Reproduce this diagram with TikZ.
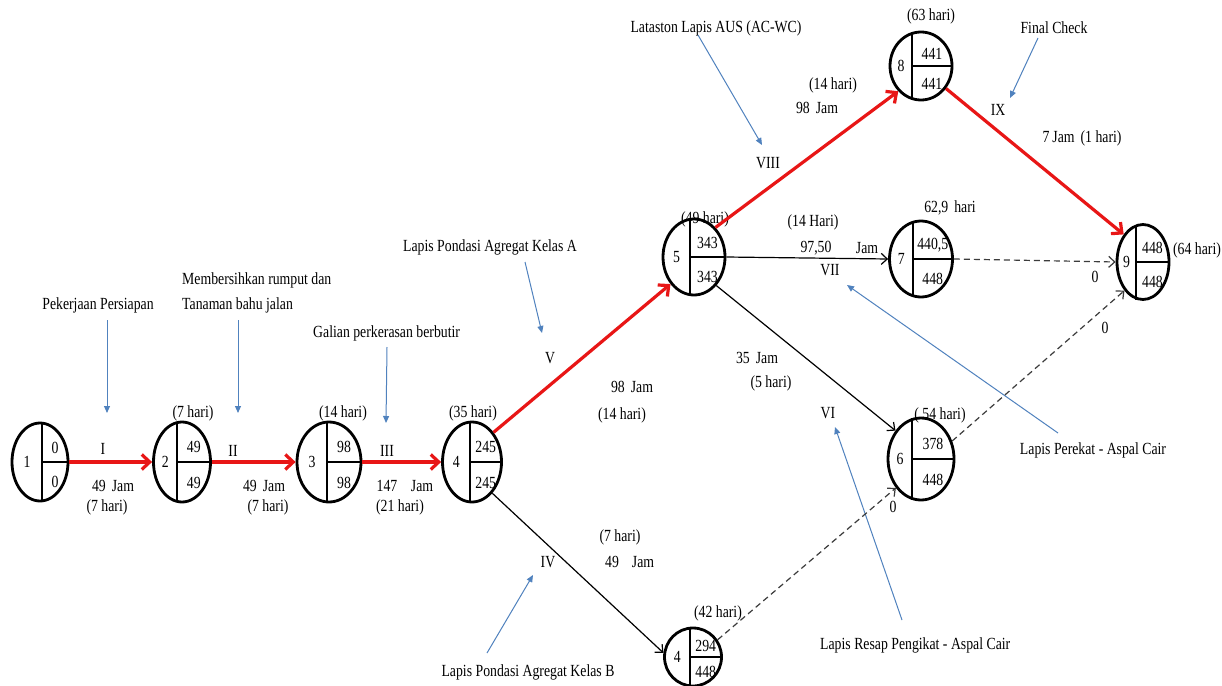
\documentclass[tikz,border=0pt]{standalone}
\usepackage{fontspec}
\setmainfont{Liberation Serif}[FakeStretch=0.81]
\usetikzlibrary{shapes.geometric,arrows.meta}
\definecolor{cpmred}{RGB}{232,22,22}
\definecolor{noteblue}{RGB}{80,130,190}
\definecolor{dashgray}{RGB}{60,60,60}
\tikzset{
 txt/.style={font=\fontsize{17}{19}\selectfont, inner sep=0pt},
 evt/.style={draw, ellipse, line width=2.8pt, inner sep=0pt},
 innerline/.style={line width=1.3pt},
 crit/.style={draw=cpmred, line width=3.2pt, -{Straight Barb[length=8pt,width=15pt]}},
 act/.style={line width=1.2pt, -{Straight Barb[length=6pt,width=11pt]}},
 dummy/.style={draw=dashgray, line width=1.2pt, dash pattern=on 6pt off 4pt, -{Straight Barb[length=6pt,width=11pt]}},
 note/.style={draw=noteblue, line width=1pt, -{Triangle[length=7pt,width=6pt]}}
}
% name, x, y, rx, ry, dv, num, top, bottom
\newcommand\evnode[9]{%
 \node[evt, minimum width=2*#4pt, minimum height=2*#5pt] (#1) at (#2,#3) {};
 \draw[innerline] (#2+#6,#3-#5) -- (#2+#6,#3+#5);
 \draw[innerline] (#2+#6,#3) -- (#2+#4,#3);
 \node[txt] (#1-num) at ({(2*#2-#4+#6)/2},#3) {#7};
 \node[txt] (#1-top) at ({(2*#2+#6+#4)/2},{#3-0.37*#5}) {#8};
 \node[txt] (#1-bot) at ({(2*#2+#6+#4)/2},{#3+0.52*#5}) {#9};
}
\begin{document}
\begin{tikzpicture}[x=1pt,y=-1pt]
\useasboundingbox (0,0) rectangle (1222,685);
\fill[white] (0,0) rectangle (1222,685);

% event nodes
\evnode{n1}{40}{462}{28}{39}{2}{1}{0}{0}
\evnode{n2}{182}{462}{28.5}{40}{-5}{2}{49}{49}
\evnode{n3}{329}{462}{32}{40}{-2}{3}{98}{98}
\evnode{n4}{472}{462}{29.5}{40}{-2}{4}{245}{245}
\evnode{n5}{694}{257}{31}{38}{-4}{5}{343}{343}
\evnode{n7}{921}{259}{31.5}{38}{-8}{7}{440,5}{448}
\evnode{n8}{921}{66}{31}{34}{-9}{8}{441}{441}
\evnode{n9}{1143}{262}{26}{37.5}{-7}{9}{448}{448}
\evnode{n6}{921}{459}{33}{41}{-9}{6}{378}{448}
\evnode{n10}{693}{657}{28.5}{29}{-3}{4}{294}{448}

% times above nodes
\node[txt] (e2) at (193,413) {(7 hari)};
\node[txt] (e3) at (343,413) {(14 hari)};
\node[txt] (e4) at (473,413) {(35 hari)};
\node[txt] (e5) at (705,219) {(49 hari)};
\node[txt] (e8) at (931,16) {(63 hari)};
\node[txt] (e9) at (1197,250) {(64 hari)};
\node[txt] (e6) at (940,415) {( 54 hari)};
\node[txt] (e10) at (718,613) {(42 hari)};

% activity labels
\node[txt] (lI) at (103,449) {I};
\node[txt] (lIa) at (113,486) {49\hspace{6pt}Jam};
\node[txt] (lIb) at (107,507) {(7 hari)};
\node[txt] (lII) at (233,451) {II};
\node[txt] (lIIa) at (264,486) {49\hspace{6pt}Jam};
\node[txt] (lIIb) at (268,507) {(7 hari)};
\node[txt] (lIII) at (387,451) {III};
\node[txt] (lIIIa) at (387,486) {147};
\node[txt] (lIIIc) at (422,486) {Jam};
\node[txt] (lIIIb) at (400,507) {(21 hari)};
\node[txt] (lV) at (550,358) {V};
\node[txt] (lVa) at (632,387) {98\hspace{6pt}Jam};
\node[txt] (lVb) at (622,415) {(14 hari)};
\node[txt] (lIV) at (548,562) {IV};
\node[txt] (lIVb) at (620,537) {(7 hari)};
\node[txt] (lIVa) at (612,562) {49};
\node[txt] (lIVc) at (643,562) {Jam};
\node[txt] (lVIII) at (768,163) {VIII};
\node[txt] (lVIIIb) at (833,85) {(14 hari)};
\node[txt] (lVIIIa) at (817,108) {98\hspace{6pt}Jam};
\node[txt] (lIX) at (998,110) {IX};
\node[txt] (lIXa) at (1082,138) {7\hspace{3pt}Jam\hspace{6pt}(1 hari)};
\node[txt] (lVIIb) at (813,222) {(14 Hari)};
\node[txt] (lVIIa) at (816,248) {97,50};
\node[txt] (lVIIc) at (867,248) {Jam};
\node[txt] (lVII) at (830,270) {VII};
\node[txt] (l62) at (950,208) {62,9\hspace{6pt}hari};
\node[txt] (lVIa) at (757,358) {35\hspace{6pt}Jam};
\node[txt] (lVIb) at (771,383) {(5 hari)};
\node[txt] (lVI) at (828,413) {VI};
\node[txt] (z1) at (1095,277) {0};
\node[txt] (z2) at (1105,328) {0};
\node[txt] (z3) at (893,507) {0};

% descriptions
\node[txt] (dI) at (98,305) {Pekerjaan Persiapan};
\node[txt, anchor=west] (dIIa) at (182,280) {Membersihkan rumput dan};
\node[txt, anchor=west] (dIIb) at (182,305) {Tanaman bahu jalan};
\node[txt, anchor=west] (dIII) at (313,333) {Galian perkerasan berbutir};
\node[txt, anchor=west] (dV) at (403,247) {Lapis Pondasi Agregat Kelas A};
\node[txt] (dVIII) at (716,28) {Lataston Lapis AUS (AC-WC)};
\node[txt] (dIX) at (1054,28) {Final Check};
\node[txt] (dVII) at (1093,450) {Lapis Perekat - Aspal Cair};
\node[txt, anchor=west] (dVI) at (820,645) {Lapis Resap Pengikat - Aspal Cair};
\node[txt] (dIV) at (528,672) {Lapis Pondasi Agregat Kelas B};

% note arrow ends
\coordinate (aI1) at (107,320);   \coordinate (aI2) at (107,413);
\coordinate (aII1) at (238,320);  \coordinate (aII2) at (238,413);
\coordinate (aIII1) at (387,347); \coordinate (aIII2) at (386,423);
\coordinate (aV1) at (525,262);   \coordinate (aV2) at (542,333);
\coordinate (aVIII1) at (698,35); \coordinate (aVIII2) at (762,145);
\coordinate (aIX1) at (1038,38);  \coordinate (aIX2) at (1010,98);
\coordinate (aVII1) at (1058,433);\coordinate (aVII2) at (847,285);
\coordinate (aVI1) at (902,620);  \coordinate (aVI2) at (835,427);
\coordinate (aIV1) at (487,653);  \coordinate (aIV2) at (533,575);
\draw[note] (aI1) -- (aI2);
\draw[note] (aII1) -- (aII2);
\draw[note] (aIII1) -- (aIII2);
\draw[note] (aV1) -- (aV2);
\draw[note] (aVIII1) -- (aVIII2);
\draw[note] (aIX1) -- (aIX2);
\draw[note] (aVII1) -- (aVII2);
\draw[note] (aVI1) -- (aVI2);
\draw[note] (aIV1) -- (aIV2);

% activities
\draw[act] (n5.east) -- (n7.west);
\draw[act] (n5.-52) -- (n6.132);
\draw[act] (n4.-57) -- (n10.172);
\draw[dummy] (n7.east) -- (n9.west);
\draw[dummy] (n6.30) -- (n9.237);
\draw[dummy] (n10.35) -- (n6.229);
\draw[crit] (n1.east) -- (n2.west);
\draw[crit] (n2.east) -- (n3.west);
\draw[crit] (n3.east) -- (n4.west);
\draw[crit] (n4.54) -- (n5.229);
\draw[crit] (n5.54) -- (n8.228);
\draw[crit] (n8.-42) -- (n9.125);
\end{tikzpicture}
\end{document}
